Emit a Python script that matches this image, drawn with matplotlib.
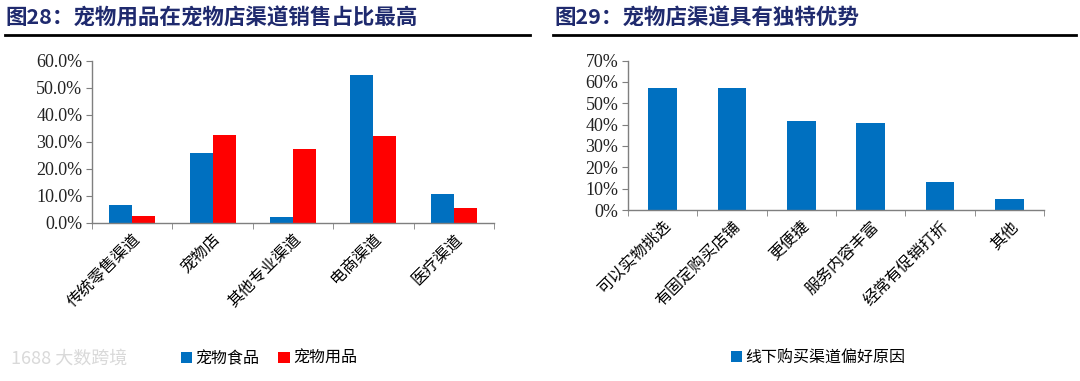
import matplotlib
matplotlib.use("Agg")
import matplotlib.pyplot as plt
import numpy as np
from matplotlib.ticker import FuncFormatter, FixedLocator

plt.rcParams['font.family'] = ['Noto Sans CJK SC', 'DejaVu Sans']

# left chart data
channels = ["传统零售渠道", "宠物店", "其他专业渠道", "电商渠道", "医疗渠道"]
pet_food = [6.5, 25.9, 2.0, 54.7, 10.6]
pet_supplies = [2.6, 32.4, 27.3, 32.1, 5.4]

# right chart data
reasons = ["可以实物挑选", "有固定购买店铺", "更便捷", "服务内容丰富", "经常有促销打折", "其他"]
reason_share = [57.4, 57.1, 41.5, 40.7, 13.3, 5.3]

BLUE = "#0070C0"
RED = "#FF0000"
NAVY = "#1F2A6E"
SPINE = "#7F7F7F"
serif = "Liberation Serif"

fig = plt.figure(figsize=(10.8, 3.81), dpi=100)

# titles + underline
fig.text(0.005, 0.952, "图28：宠物用品在宠物店渠道销售占比最高", fontsize=15.5, fontweight='bold',
         color=NAVY, va='center', ha='left')
fig.text(0.513, 0.952, "图29：宠物店渠道具有独特优势", fontsize=15.5, fontweight='bold',
         color=NAVY, va='center', ha='left')
fig.add_artist(plt.Line2D([0.005, 0.491], [0.907, 0.907], color='black', lw=2))
fig.add_artist(plt.Line2D([0.512, 0.996], [0.907, 0.907], color='black', lw=2))


def style_axes(ax, n):
    for s in ['top', 'right']:
        ax.spines[s].set_visible(False)
    for s in ['left', 'bottom']:
        ax.spines[s].set_color(SPINE)
        ax.spines[s].set_linewidth(1.0)
    ax.set_xlim(-0.5, n - 0.5)
    ax.xaxis.set_major_locator(FixedLocator(np.arange(n)))
    ax.xaxis.set_minor_locator(FixedLocator(np.arange(n + 1) - 0.5))
    ax.tick_params(axis='x', which='major', length=0, pad=6)
    ax.tick_params(axis='x', which='minor', length=4, direction='out', color=SPINE)
    ax.tick_params(axis='y', length=4, direction='out', color=SPINE, pad=3)
    for lab in ax.get_yticklabels():
        lab.set_fontfamily(serif)
        lab.set_fontsize(13)
        lab.set_color('#222222')


# left chart
ax1 = fig.add_axes([0.0852, 0.4155, 0.3722, 0.425])
x = np.arange(len(channels))
w = 0.285
ax1.bar(x - w / 2, pet_food, w, color=BLUE, label="宠物食品")
ax1.bar(x + w / 2, pet_supplies, w, color=RED, label="宠物用品")
ax1.set_ylim(0, 60)
ax1.set_yticks(np.arange(0, 61, 10))
ax1.yaxis.set_major_formatter(FuncFormatter(lambda v, p: f"{v:.1f}%"))
ax1.set_xticks(x)
ax1.set_xticklabels(channels, rotation=45, ha='right', rotation_mode='anchor', fontsize=11.5)
style_axes(ax1, len(channels))
ax1.legend(loc='center', bbox_to_anchor=(0.44, -0.84), ncol=2, frameon=False, fontsize=11.5,
           handlelength=0.7, handleheight=0.7, handletextpad=0.2, columnspacing=1.2)

# right chart
ax2 = fig.add_axes([0.5815, 0.4488, 0.3852, 0.392])
x2 = np.arange(len(reasons))
ax2.bar(x2, reason_share, 0.41, color=BLUE, label="线下购买渠道偏好原因")
ax2.set_ylim(0, 70)
ax2.set_yticks(np.arange(0, 71, 10))
ax2.yaxis.set_major_formatter(FuncFormatter(lambda v, p: f"{v:.0f}%"))
ax2.set_xticks(x2)
ax2.set_xticklabels(reasons, rotation=45, ha='right', rotation_mode='anchor', fontsize=11.5)
style_axes(ax2, len(reasons))
ax2.legend(loc='center', bbox_to_anchor=(0.457, -0.99), ncol=1, frameon=False, fontsize=11.5,
           handlelength=0.7, handleheight=0.7, handletextpad=0.2)

# watermark
fig.text(0.010, 0.06, "1688 大数跨境", fontsize=13, color='#D9D9D9', va='center', ha='left')

fig.savefig("out.png", dpi=100)
